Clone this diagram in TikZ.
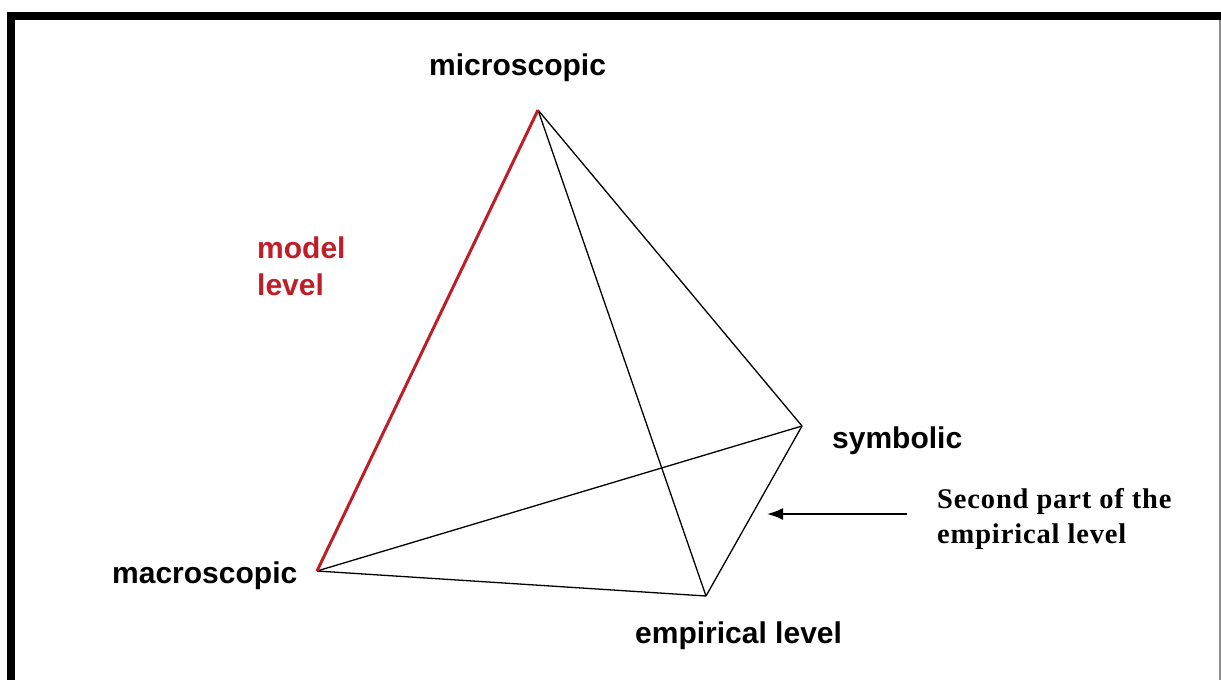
\documentclass[tikz,border=0pt]{standalone}
\usepackage{fontspec}
\setmainfont{Liberation Sans}
\newfontfamily\serifbold[LetterSpace=3]{Liberation Serif}
\usepackage{tikz}
\usetikzlibrary{arrows.meta,positioning}
\usepackage{xcolor}
\definecolor{modelred}{RGB}{190,30,40}
\definecolor{edgegray}{RGB}{140,140,140}

\begin{document}
\begin{tikzpicture}[
  x=1pt, y=-1pt,
  lvl/.style={inner sep=0pt, anchor=base west, font=\fontsize{30}{37}\selectfont\bfseries},
  edge/.style={line width=1.3pt, black},
  modeledge/.style={line width=3pt, modelred},
]
\useasboundingbox (0,0) rectangle (1221,680);
% frame
\fill[black] (7,12) rectangle (1221,20);
\fill[black] (7,12) rectangle (15,680);
\draw[edgegray, line width=1.2pt] (1220,20) -- (1220,680);

% corners of the tetrahedron
\coordinate (top) at (538,110);
\coordinate (macro) at (317,571);
\coordinate (sym) at (802,426);
\coordinate (emp) at (706,596);

\draw[edge] (top) -- (sym);
\draw[edge] (top) -- (emp);
\draw[edge] (macro) -- (sym);
\draw[edge] (macro) -- (emp);
\draw[edge] (sym) -- (emp);
\draw[modeledge] (top) -- (macro);

\node[lvl] (microlbl) at (429,75) {microscopic};
\node[lvl] (macrolbl) at (112,583) {macroscopic};
\node[lvl] (symlbl) at (832,448) {symbolic};
\node[lvl] (emplbl) at (635,643) {empirical level};
% base of a two-line node is its last line
\node[lvl, text=modelred, align=left] (modellbl) at (257,295) {model\\level};

\node[inner sep=0pt, anchor=base west, align=left,
  font=\fontsize{28.5}{35}\selectfont\serifbold\bfseries] (partlbl) at (937,543)
  {Second part of the\\empirical level};
\coordinate (tip) at (767,514);
\draw[-{Latex[length=16pt,width=12pt]}, line width=2pt] (partlbl.west |- tip) ++(-30,0) coordinate (tail) -- (tip);
\end{tikzpicture}
\end{document}
